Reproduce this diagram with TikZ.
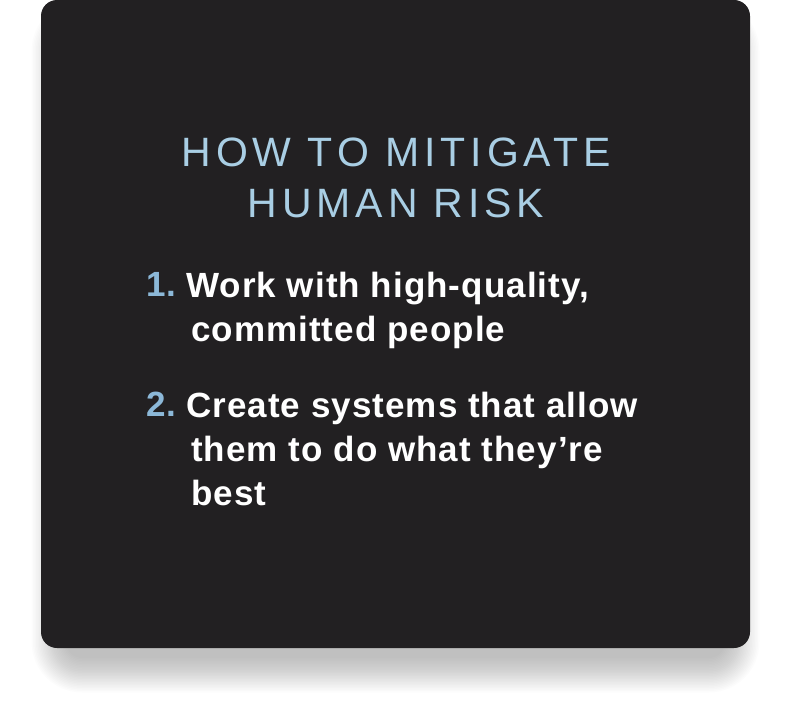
\documentclass[tikz,border=0pt]{standalone}
\usepackage{fontspec}
\setmainfont{Liberation Sans}
\newfontfamily\headfont[LetterSpace=12]{Liberation Sans}
\newfontfamily\listfont[LetterSpace=3]{Liberation Sans}
\usetikzlibrary{positioning}
\definecolor{cardbg}{HTML}{222022}
\definecolor{headblue}{HTML}{A9CEE4}
\definecolor{numblue}{HTML}{8CB8D8}
\newcommand{\cont}{\hspace*{5pt}}
\tikzset{
    % title in spaced capitals
    head/.style={
           text=headblue,
           font=\headfont\fontsize{41}{50.6}\selectfont,
           align=center,
           inner sep=0pt},
    % list numbers and list items
    num/.style={
           text=numblue,
           font=\listfont\bfseries\fontsize{35}{44}\selectfont,
           anchor=base west,
           inner sep=0pt},
    item/.style={
           text=white,
           font=\listfont\bfseries\fontsize{35}{44}\selectfont,
           align=left,
           anchor=north west,
           inner sep=0pt}
}
\begin{document}
\begin{tikzpicture}[x=1pt,y=-1pt]
\useasboundingbox (0,0) rectangle (792,701);

% soft shadow under the card
\foreach \e in {0,1.5,...,34.5}
    \fill[black, opacity=0.012, rounded corners=16+\e]
        (66-\e,35-\e) rectangle (725+\e,658+\e);

% the card
\fill[cardbg, rounded corners=16] (41,0) rectangle (750,648);

\node[head, anchor=north] (title) at (396,138) {HOW TO MITIGATE\\HUMAN RISK};

\node[num] (num1) at (146,296.7) {1.};
\node[item] (item1) at (186,271.5) {Work with high-quality,\\\cont committed people};

\node[num] (num2) at (146,416.7) {2.};
\node[item] (item2) at (186,392) {Create systems that allow\\\cont them to do what they’re\\\cont best};
\end{tikzpicture}
\end{document}
